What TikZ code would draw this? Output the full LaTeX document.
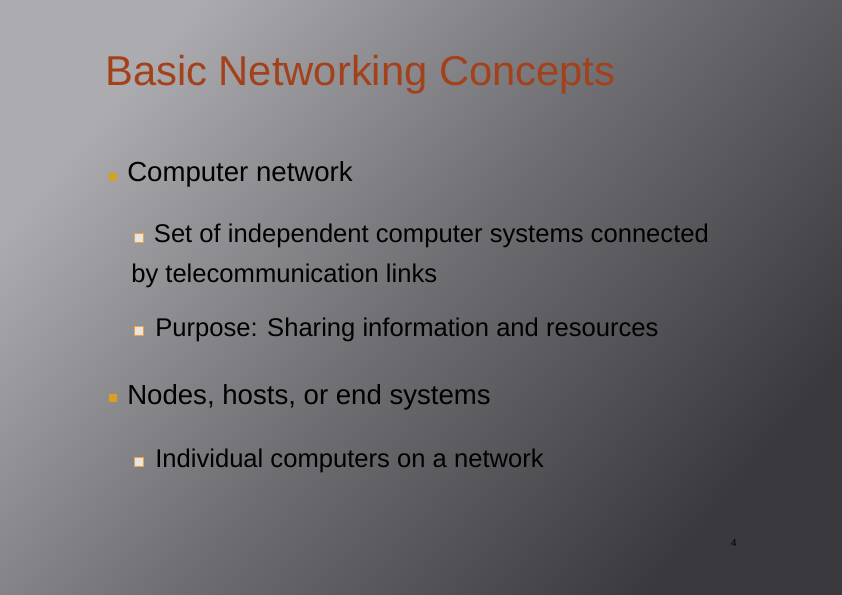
\documentclass[tikz,border=0pt]{standalone}
\usepackage{fontspec}
\setmainfont{Liberation Sans}
\usepackage{xcolor}
\definecolor{titlebrown}{HTML}{A3411B}
\definecolor{bulletorange}{HTML}{D9A020}
\definecolor{subbullet}{HTML}{F0A040}
\definecolor{bglight}{HTML}{ACACB0}
\definecolor{bgmid}{HTML}{6E6E72}
\definecolor{bgdark}{HTML}{3A3A3E}
\tikzset{
  body/.style={anchor=west, inner sep=0pt, font=\fontsize{20.7}{24}\selectfont},
  subtext/.style={anchor=west, inner sep=0pt, font=\fontsize{19.2}{23.5}\selectfont, align=left},
  mainbullet/.style={fill=bulletorange, minimum size=6pt, inner sep=0pt},
  subbox/.style={draw=subbullet, line width=0.9pt, fill=white!80!gray, minimum size=7pt, inner sep=0pt}
}
\begin{document}
\begin{tikzpicture}[x=0.75pt, y=-0.75pt]
  \useasboundingbox (0,0) rectangle (842,595);
  \shade[top color=bglight, bottom color=bgdark, middle color=bgmid, shading angle=50]
    (0,0) rectangle (842,595);

  \node[anchor=west, inner sep=0pt, text=titlebrown, font=\fontsize{31.3}{36}\selectfont] (title) at (105,75) {Basic Networking Concepts};

  % first bullet
  \node[mainbullet] (b1) at (113,177) {};
  \node[body] (computer) at (127,174) {Computer network};
  \node[subbox] (s1) at (139,238) {};
  \node[anchor=north west, inner sep=0pt, font=\fontsize{19.2}{30}\selectfont, align=left] (set) at (131,224)
    {\hspace{17pt}Set of independent computer systems connected\\by telecommunication links};
  \node[subbox] (s2) at (139,331) {};
  \node[subtext] (purpose) at (155,330) {Purpose: Sharing information and resources};

  % second bullet
  \node[mainbullet] (b2) at (113,398) {};
  \node[body] (nodes) at (127,397) {Nodes, hosts, or end systems};
  \node[subbox] (s3) at (139,462) {};
  \node[subtext] (individual) at (155,461) {Individual computers on a network};

  \node[inner sep=0pt, font=\fontsize{7.5}{8}\selectfont] (page) at (734,543) {4};
\end{tikzpicture}
\end{document}
